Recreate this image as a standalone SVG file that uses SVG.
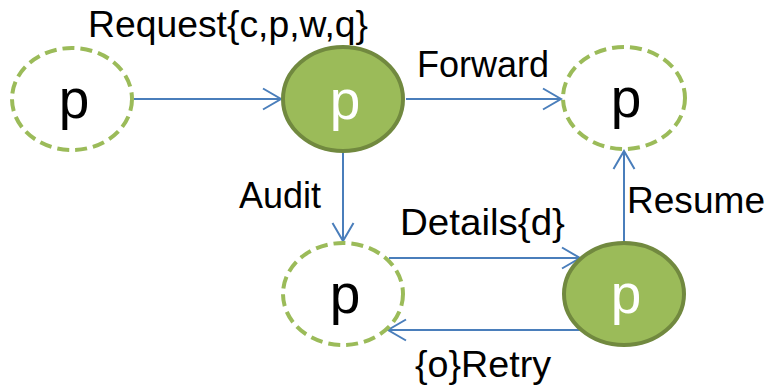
<svg xmlns="http://www.w3.org/2000/svg" width="770" height="387" viewBox="0 0 770 387">
  <style>
    .ghost { fill: #ffffff; stroke: #9BBB59; stroke-width: 4; stroke-dasharray: 12 6; }
    .solid { fill: #9BBB59; stroke: #71893F; stroke-width: 4; }
    .pid { font-family: "Liberation Sans", Arial, sans-serif; font-size: 55px; text-anchor: middle; }
    .pid.dark { fill: #000000; }
    .pid.light { fill: #ffffff; }
    .lbl { font-family: "Liberation Sans", Arial, sans-serif; font-size: 36px; fill: #000000; }
    .edge { fill: none; stroke: #4A7EBB; stroke-width: 2; marker-end: url(#vee); }
  </style>
  <defs>
    <marker id="vee" markerUnits="userSpaceOnUse" viewBox="-20 -12 22 24" refX="0" refY="0" markerWidth="22" markerHeight="24" orient="auto">
      <path d="M -18 -10.5 L 0 0 L -18 10.5" fill="none" stroke="#4A7EBB" stroke-width="2"/>
    </marker>
  </defs>

  <!-- connectors -->
  <g id="edges">
    <line class="edge" x1="134" y1="99" x2="281" y2="99"/>
    <line class="edge" x1="406" y1="99" x2="561" y2="99"/>
    <line class="edge" x1="343" y1="153" x2="343" y2="241"/>
    <line class="edge" x1="389" y1="258" x2="580" y2="258"/>
    <line class="edge" x1="581" y1="330" x2="388" y2="330"/>
    <line class="edge" x1="624" y1="242" x2="624" y2="151"/>
  </g>

  <!-- edge labels -->
  <g id="labels">
    <text class="lbl" x="88" y="37" textLength="280" lengthAdjust="spacingAndGlyphs">Request{c,p,w,q}</text>
    <text class="lbl" x="417" y="77">Forward</text>
    <text class="lbl" x="239" y="208" textLength="82" lengthAdjust="spacingAndGlyphs">Audit</text>
    <text class="lbl" x="400" y="235" textLength="165" lengthAdjust="spacingAndGlyphs">Details{d}</text>
    <text class="lbl" x="627" y="213" textLength="138" lengthAdjust="spacingAndGlyphs">Resume</text>
    <text class="lbl" x="415" y="377" textLength="136" lengthAdjust="spacingAndGlyphs">{o}Retry</text>
  </g>

  <g id="node-source">
    <ellipse class="ghost" cx="72" cy="99" rx="60" ry="51"/>
    <text class="pid dark" x="74" y="118">p</text>
  </g>

  <g id="node-hub">
    <ellipse class="solid" cx="343" cy="99" rx="60" ry="52"/>
    <text class="pid light" x="345" y="119">p</text>
  </g>

  <g id="node-target">
    <ellipse class="ghost" cx="624" cy="98" rx="61" ry="51"/>
    <text class="pid dark" x="626" y="117">p</text>
  </g>

  <g id="node-audit">
    <ellipse class="ghost" cx="343" cy="294" rx="60" ry="51"/>
    <text class="pid dark" x="345" y="313">p</text>
  </g>

  <g id="node-details">
    <ellipse class="solid" cx="624" cy="294" rx="60" ry="51"/>
    <text class="pid light" x="626" y="313">p</text>
  </g>
</svg>
